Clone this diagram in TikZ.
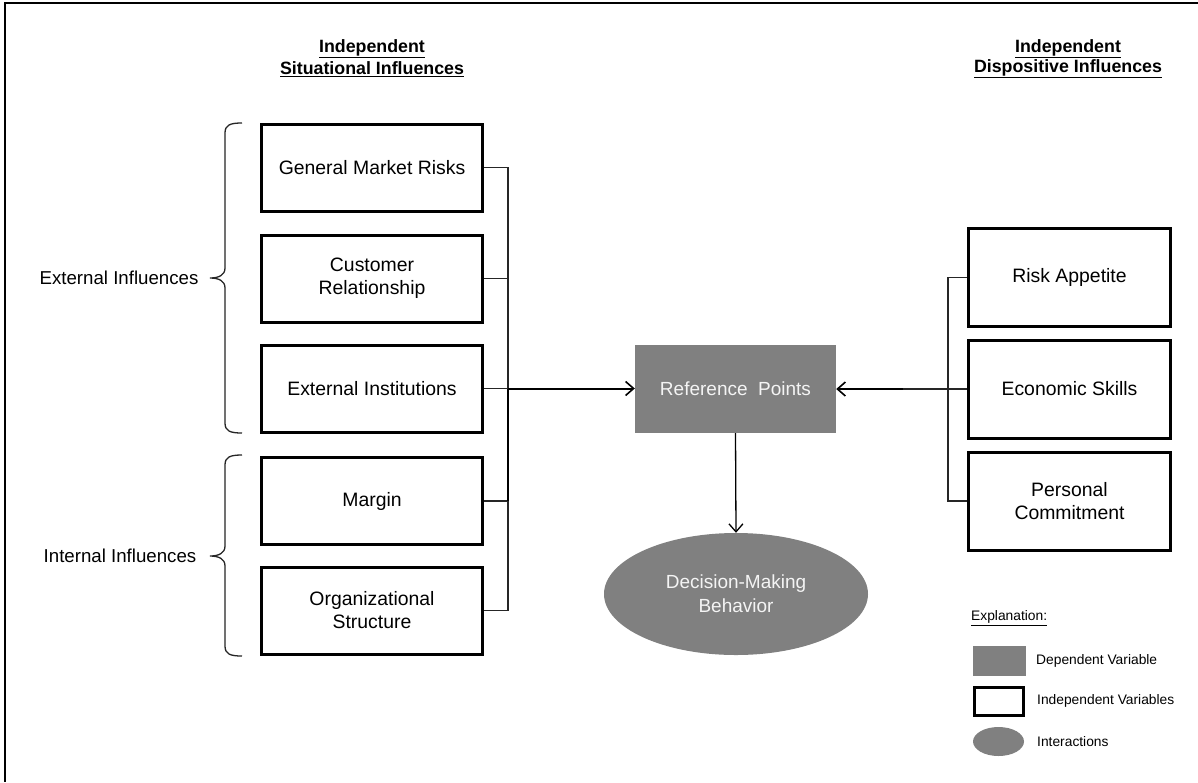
\documentclass[tikz,border=0pt]{standalone}
\usepackage{fontspec}
\setmainfont{Liberation Sans}
\usetikzlibrary{arrows.meta,shapes.geometric}
\definecolor{boxgray}{HTML}{808080}
\definecolor{softwhite}{HTML}{F4F4F4}
\begin{document}
\begin{tikzpicture}[x=1pt,y=-1pt,
  lbox/.style={draw=black,line width=3pt,minimum width=221pt,minimum height=87pt,align=center,inner sep=0pt,font=\fontsize{19.4}{23}\selectfont},
  rbox/.style={draw=black,line width=3pt,minimum width=202pt,minimum height=98pt,align=center,inner sep=0pt,font=\fontsize{19.4}{23}\selectfont},
  depbox/.style={fill=boxgray,minimum width=201pt,minimum height=88pt,text=softwhite,align=center,inner sep=0pt,font=\fontsize{19}{23}\selectfont},
  interell/.style={ellipse,fill=boxgray,minimum width=264pt,minimum height=122pt,text=softwhite,align=center,inner sep=0pt,font=\fontsize{19}{24}\selectfont},
  sidelabel/.style={font=\fontsize{18.67}{23}\selectfont,inner sep=0pt},
  heading/.style={font=\bfseries\fontsize{17.8}{23}\selectfont,align=center,inner sep=0pt},
  legtext/.style={font=\fontsize{13.8}{16}\selectfont,anchor=west,inner sep=0pt},
  bus/.style={draw=black!85,line width=1.3pt},
  busthick/.style={draw=black,line width=2pt},
  mainarrow/.style={draw=black,line width=2pt,-{Straight Barb[length=8pt,width=14pt,line width=1.6pt]}},
  thinarrow/.style={draw=black,line width=1.3pt,-{Straight Barb[length=8pt,width=14pt,line width=1.3pt]}},
  bracestyle/.style={draw=black!85,line width=1.3pt}
]
\useasboundingbox (0,0) rectangle (1198,782);
\fill[white] (0,0) rectangle (1198,782);
% frame
\draw[line width=2pt,black] (1198,3) -- (5,3) -- (5,782);

% headings
\node[heading] (hl1) at (372,49) {\underline{Independent}};
\node[heading] (hl2) at (372,69) {\underline{Situational Influences}};
\node[heading] (hr1) at (1068,49) {\underline{Independent}};
\node[heading] (hr2) at (1068,69) {\underline{Dispositive Influences}};

% left boxes
\node[lbox] (gmr) at (372,167.5) {General Market Risks};
\node[lbox] (cr)  at (372,278.5) {Customer\\Relationship};
\node[lbox] (ei)  at (372,388.5) {External Institutions};
\node[lbox] (mar) at (372,501) {Margin};
\node[lbox] (org) at (372,610.5) {Organizational\\Structure};

% right boxes
\node[rbox] (ra) at (1069.5,277.5) {Risk Appetite};
\node[rbox] (es) at (1069.5,389) {Economic Skills};
\node[rbox] (pc) at (1069.5,501) {Personal\\Commitment};

% centre
\node[depbox] (rp) at (735.5,389) {Reference\ \ Points};
\node[interell] (dmb) at (736,594) {Decision-Making\\Behavior};

% side labels
\node[sidelabel] (ext) at (119,278) {External Influences};
\node[sidelabel] (int) at (120,556) {Internal Influences};

% braces
\draw[bracestyle] (242,123) .. controls (230,123) and (225,125) .. (225,133) -- (225,268)
  .. controls (225,275) and (219,278) .. (210,278) .. controls (219,278) and (225,281) .. (225,288)
  -- (225,423) .. controls (225,431) and (230,433) .. (242,433);
\draw[bracestyle] (242,455) .. controls (230,455) and (225,457) .. (225,465) -- (225,546)
  .. controls (225,553) and (219,556) .. (210,556) .. controls (219,556) and (225,559) .. (225,566)
  -- (225,646) .. controls (225,654) and (230,656) .. (242,656);

% left bus
\coordinate (lbtop) at (508,167.5);
\coordinate (lbei) at (508,388.5);
\coordinate (lbmar) at (508,501);
\coordinate (lbbot) at (508,610.5);
\draw[bus] (gmr.east) -- (lbtop) -- (lbei);
\draw[bus] (cr.east) -- (cr.east -| lbtop);
\draw[bus] (ei.east) -- (lbei);
\draw[bus] (mar.east) -- (lbmar);
\draw[bus] (org.east) -- (lbbot) -- (lbmar);
\draw[busthick] (lbei) -- (lbmar);
\draw[mainarrow] (lbei) -- (rp.west |- lbei);

% right bus
\coordinate (rbtop) at (948,277.5);
\coordinate (rbbot) at (948,501);
\coordinate (rbjoin) at (903,389);
\draw[bus] (ra.west) -- (rbtop) -- (rbbot) -- (pc.west);
\draw[bus] (es.west) -- (rbjoin);
\draw[mainarrow] (rbjoin) -- (rp.east);

% down arrow
\draw[thinarrow] (rp.south) -- (dmb.north);

% legend
\node[legtext] (legtitle) at (971,618) {\underline{Explanation:}};
\node[fill=boxgray,minimum width=53pt,minimum height=30pt,inner sep=0pt] (legdep) at (999.5,661) {};
\node[draw=black,line width=3pt,minimum width=49pt,minimum height=28pt,inner sep=0pt] (legind) at (999,701.5) {};
\node[ellipse,fill=boxgray,minimum width=51pt,minimum height=29pt,inner sep=0pt] (legint) at (998.5,741.5) {};
\node[legtext] (legdept) at (1036,661) {Dependent\ Variable};
\node[legtext] (legindt) at (1037,701) {Independent\ Variables};
\node[legtext] (leginte) at (1037,742) {Interactions};
\end{tikzpicture}
\end{document}
